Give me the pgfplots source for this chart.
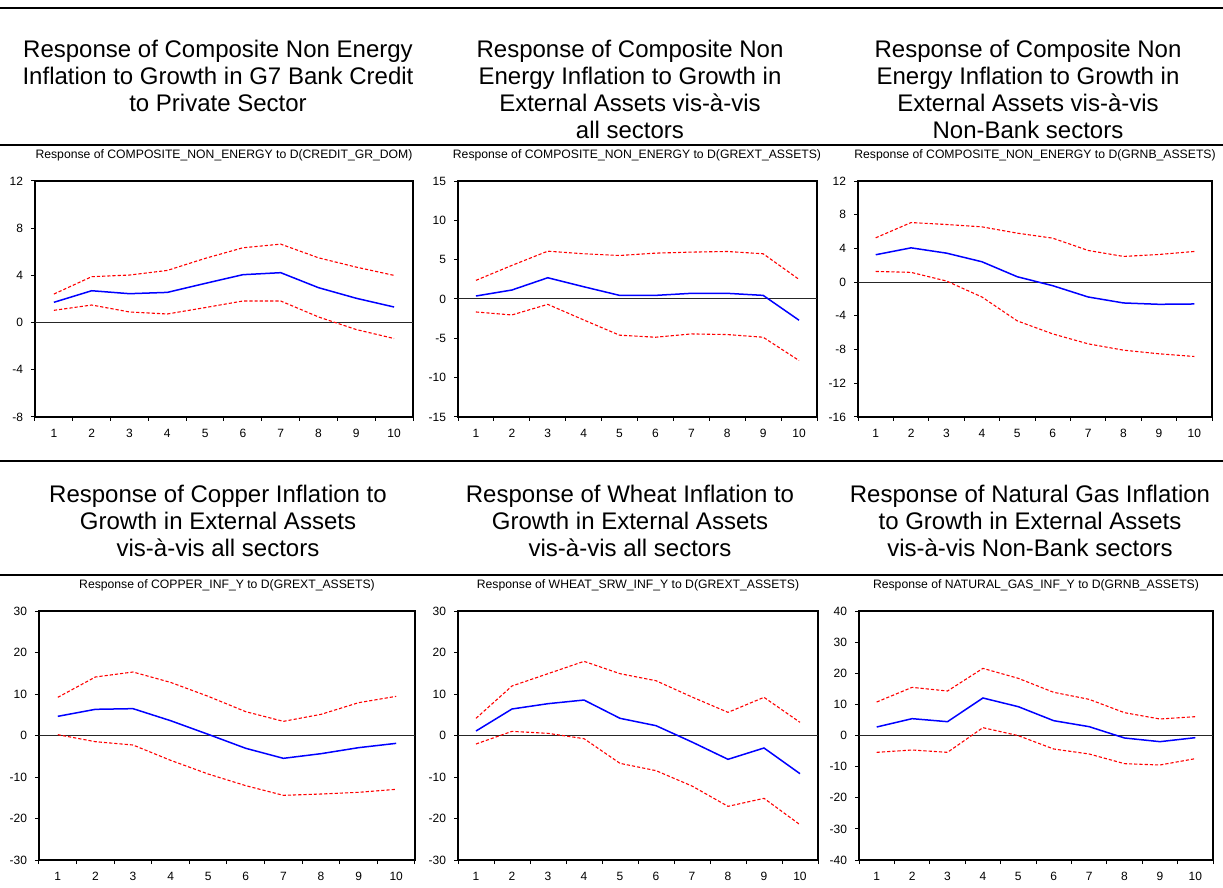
\documentclass[border=0pt]{standalone}
\usepackage{fontspec}
\setmainfont{Liberation Sans}
\usepackage{pgfplots}
\pgfplotsset{compat=1.18}
\pgfplotsset{
  irf/.style={
    scale only axis, anchor=south west,
    xmin=0.5, xmax=10.5,
    xtick={1,2,3,4,5,6,7,8,9,10},
    xticklabels={1,2,3,4,5,6,7,8,9,10},
    minor xtick={0.5,1.5,2.5,3.5,4.5,5.5,6.5,7.5,8.5,9.5,10.5},
    major x tick style={draw=none},
    tick align=outside, tick pos=left,
    major tick length=2pt, minor tick length=2pt,
    every tick/.style={black, line width=0.5pt},
    axis line style={line width=0.7pt},
    tick label style={font=\fontsize{6}{7}\selectfont},
    /pgf/number format/assume math mode=true,
    xticklabel style={yshift=-0.5pt},
    yticklabel style={xshift=-0.5pt},
  },
  blu/.style={blue, line width=0.75pt},
  rd/.style={red, line width=0.55pt, dash pattern=on 1.6pt off 1pt},
  zl/.style={black!85, line width=0.5pt, forget plot},
}
\begin{document}
\begin{tikzpicture}
\begin{scope}[x=0.5pt,y=0.5pt]
\path[use as bounding box] (0,0) rectangle (1223,879);
% rules
\draw[line width=1pt] (0,871) -- (1223,871);
\draw[line width=1pt] (0,734) -- (1223,734);
\draw[line width=1pt] (0,418) -- (1223,418);
\draw[line width=1pt] (0,304) -- (1223,304);
% big titles
\tikzset{bt/.style={anchor=north, align=center, inner sep=0pt, font=\fontsize{12}{13.5}\selectfont}}
\node[bt] at (218,839) {Response of Composite Non Energy\\Inflation to Growth in G7 Bank Credit\\to Private Sector};
\node[bt] at (630,839) {Response of Composite Non\\Energy Inflation to Growth in\\External Assets vis-à-vis\\all sectors};
\node[bt] at (1028,839) {Response of Composite Non\\Energy Inflation to Growth in\\External Assets vis-à-vis\\Non-Bank sectors};
\node[bt] at (218,394) {Response of Copper Inflation to\\Growth in External Assets\\vis-à-vis all sectors};
\node[bt] at (630,394) {Response of Wheat Inflation to\\Growth in External Assets\\vis-à-vis all sectors};
\node[bt] at (1030,394) {Response of Natural Gas Inflation\\to Growth in External Assets\\vis-à-vis Non-Bank sectors};
% small titles
\tikzset{st/.style={anchor=center, inner sep=0pt, font=\fontsize{6.1}{7}\selectfont}}
\node[st] at (224,724) {Response of COMPOSITE\_NON\_ENERGY to D(CREDIT\_GR\_DOM)};
\node[st] at (637,724) {Response of COMPOSITE\_NON\_ENERGY to D(GREXT\_ASSETS)};
\node[st] at (1035,724) {Response of COMPOSITE\_NON\_ENERGY to D(GRNB\_ASSETS)};
\node[st] at (227,294) {Response of COPPER\_INF\_Y to D(GREXT\_ASSETS)};
\node[st] at (638,294) {Response of WHEAT\_SRW\_INF\_Y to D(GREXT\_ASSETS)};
\node[st] at (1036,294) {Response of NATURAL\_GAS\_INF\_Y to D(GRNB\_ASSETS)};
\end{scope}

% Panel 1
\begin{axis}[irf, at={(17.5pt,231pt)}, width=189pt, height=118pt,
  ymin=-8, ymax=12, ytick={-8,-4,0,4,8,12}, yticklabels={-8,-4,0,4,8,12}]
\addplot[zl] coordinates {(0.5,0) (10.5,0)};
\addplot[blu] coordinates {(1,1.72) (2,2.70) (3,2.45) (4,2.56) (5,3.32) (6,4.06) (7,4.23) (8,2.96) (9,2.06) (10,1.32)};
\addplot[rd] coordinates {(1,2.42) (2,3.89) (3,4.03) (4,4.42) (5,5.44) (6,6.34) (7,6.65) (8,5.49) (9,4.70) (10,4.00)};
\addplot[rd] coordinates {(1,1.04) (2,1.49) (3,0.90) (4,0.73) (5,1.27) (6,1.83) (7,1.83) (8,0.48) (9,-0.59) (10,-1.35)};
\end{axis}

% Panel 2
\begin{axis}[irf, at={(229pt,231pt)}, width=179.5pt, height=118pt,
  ymin=-15, ymax=15, ytick={-15,-10,-5,0,5,10,15}, yticklabels={-15,-10,-5,0,5,10,15}]
\addplot[zl] coordinates {(0.5,0) (10.5,0)};
\addplot[blu] coordinates {(1,0.38) (2,1.14) (3,2.70) (4,1.56) (5,0.46) (6,0.46) (7,0.72) (8,0.72) (9,0.46) (10,-2.70)};
\addplot[rd] coordinates {(1,2.37) (2,4.27) (3,6.08) (4,5.75) (5,5.53) (6,5.83) (7,5.96) (8,6.04) (9,5.75) (10,2.49)};
\addplot[rd] coordinates {(1,-1.65) (2,-2.03) (3,-0.68) (4,-2.66) (5,-4.60) (6,-4.86) (7,-4.44) (8,-4.52) (9,-4.86) (10,-7.82)};
\end{axis}

% Panel 3
\begin{axis}[irf, at={(429pt,231pt)}, width=177pt, height=118pt,
  ymin=-16, ymax=12, ytick={-16,-12,-8,-4,0,4,8,12}, yticklabels={-16,-12,-8,-4,0,4,8,12}]
\addplot[zl] coordinates {(0.5,0) (10.5,0)};
\addplot[blu] coordinates {(1,3.25) (2,4.07) (3,3.44) (4,2.42) (5,0.64) (6,-0.42) (7,-1.76) (8,-2.47) (9,-2.63) (10,-2.59)};
\addplot[rd] coordinates {(1,5.26) (2,7.07) (3,6.84) (4,6.56) (5,5.81) (6,5.22) (7,3.76) (8,3.05) (9,3.28) (10,3.64)};
\addplot[rd] coordinates {(1,1.27) (2,1.16) (3,0.13) (4,-1.76) (5,-4.60) (6,-6.14) (7,-7.32) (8,-8.07) (9,-8.50) (10,-8.82)};
\end{axis}

% Panel 4
\begin{axis}[irf, at={(19.5pt,9.5pt)}, width=188pt, height=124.5pt,
  ymin=-30, ymax=30, ytick={-30,-20,-10,0,10,20,30}, yticklabels={-30,-20,-10,0,10,20,30}]
\addplot[zl] coordinates {(0.5,0) (10.5,0)};
\addplot[blu] coordinates {(1,4.62) (2,6.31) (3,6.47) (4,3.57) (5,0.28) (6,-3.09) (7,-5.50) (8,-4.38) (9,-2.93) (10,-1.89)};
\addplot[rd] coordinates {(1,9.20) (2,14.1) (3,15.3) (4,12.8) (5,9.44) (6,5.74) (7,3.41) (8,5.10) (9,7.91) (10,9.44)};
\addplot[rd] coordinates {(1,0.20) (2,-1.49) (3,-2.29) (4,-5.98) (5,-9.28) (6,-12.09) (7,-14.42) (8,-14.10) (9,-13.69) (10,-12.97)};
\end{axis}

% Panel 5
\begin{axis}[irf, at={(229pt,9.5pt)}, width=180pt, height=124.5pt,
  ymin=-30, ymax=30, ytick={-30,-20,-10,0,10,20,30}, yticklabels={-30,-20,-10,0,10,20,30}]
\addplot[zl] coordinates {(0.5,0) (10.5,0)};
\addplot[blu] coordinates {(1,1.08) (2,6.39) (3,7.67) (4,8.55) (5,4.14) (6,2.37) (7,-1.57) (8,-5.74) (9,-3.01) (10,-9.20)};
\addplot[rd] coordinates {(1,4.14) (2,11.93) (3,14.9) (4,17.87) (5,14.9) (6,13.2) (7,9.28) (8,5.58) (9,9.20) (10,3.17)};
\addplot[rd] coordinates {(1,-2.05) (2,1.0) (3,0.52) (4,-0.76) (5,-6.71) (6,-8.47) (7,-12.17) (8,-17.07) (9,-15.14) (10,-21.49)};
\end{axis}

% Panel 6
\begin{axis}[irf, at={(429.5pt,9.5pt)}, width=177pt, height=124.5pt,
  ymin=-40, ymax=40, ytick={-40,-30,-20,-10,0,10,20,30,40}, yticklabels={-40,-30,-20,-10,0,10,20,30,40}]
\addplot[zl] coordinates {(0.5,0) (10.5,0)};
\addplot[blu] coordinates {(1,2.73) (2,5.41) (3,4.44) (4,12.05) (5,9.26) (6,4.76) (7,2.84) (8,-0.80) (9,-1.98) (10,-0.70)};
\addplot[rd] coordinates {(1,10.76) (2,15.47) (3,14.29) (4,21.57) (5,18.36) (6,13.87) (7,11.62) (8,7.33) (9,5.30) (10,6.05)};
\addplot[rd] coordinates {(1,-5.41) (2,-4.66) (3,-5.41) (4,2.52) (5,-0.05) (6,-4.34) (7,-5.94) (8,-9.05) (9,-9.48) (10,-7.44)};
\end{axis}
\end{tikzpicture}
\end{document}
